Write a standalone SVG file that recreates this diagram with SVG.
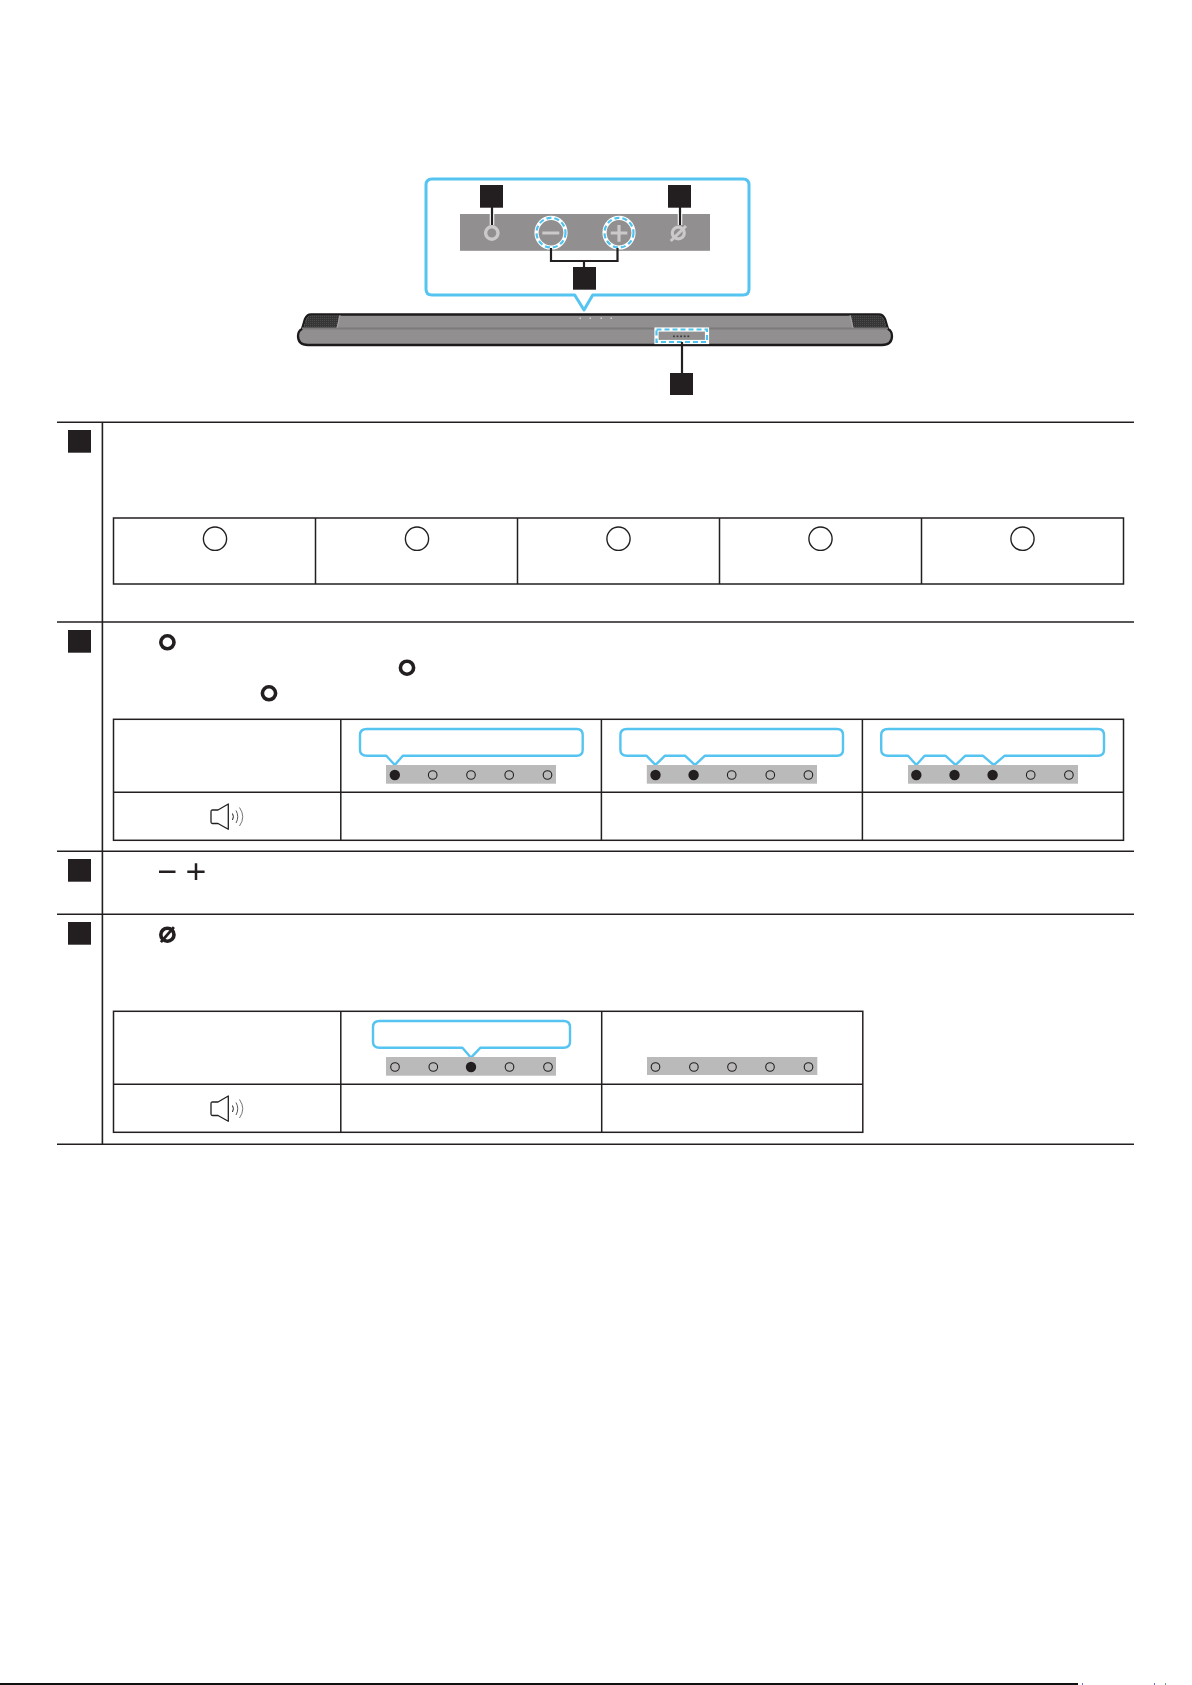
<svg xmlns="http://www.w3.org/2000/svg" width="1192" height="1685" viewBox="0 0 1192 1685">
<style>
.k{fill:#231f20}
.r{stroke:#231f20;stroke-width:1.6;fill:none}
.t{stroke:#231f20;stroke-width:1.5;fill:none}
.c{stroke:#231f20;stroke-width:2.2;fill:none}
.h{stroke:#fff;stroke-width:4.5;fill:none}
.b{stroke:#55c4f1;stroke-width:2.4;fill:#fff;stroke-linejoin:round}
.s{fill:#bbbaba}
.on{fill:#231f20}
.off{fill:none;stroke:#231f20;stroke-width:1.1}
.w{stroke:#fff;stroke-width:4.2;fill:none}
.d{stroke:#4fc3f0;stroke-width:2.2;fill:none;stroke-dasharray:5 3}
.g{stroke:#cbc9c9;fill:none}
.i{stroke:#231f20;fill:none}
</style>
<defs>
<pattern id="grille" width="2" height="2" patternUnits="userSpaceOnUse"><rect width="2" height="2" fill="#353535"/><rect width="1" height="1" fill="#4c4c4c"/></pattern>
<g id="speaker">
<path d="M7 6H1.5Q0 6 0 7.5V18Q0 19.5 1.500 19.500H7L17.300 25.300V0Z" fill="none" stroke="#231f20" stroke-width="1.300" stroke-linejoin="round"/>
<path d="M21.500 9.500Q23.300 12.700 21.500 16" fill="none" stroke="#231f20" stroke-width="1"/>
<path d="M25 6.500Q28.500 12.700 25 19" fill="none" stroke="#444" stroke-width=".9"/>
<path d="M28.500 3.500Q35 12.700 28.500 22" fill="none" stroke="#666" stroke-width=".9"/>
</g>
<g id="boldO"><ellipse cx="0" cy="0" rx="6.600" ry="6.500" class="i" stroke-width="3.600"/></g>
<g id="boldNull"><ellipse cx="0" cy="0" rx="6.600" ry="6.500" class="i" stroke-width="3.600"/><path d="M-6.500 7.500L6.500-7.500" class="i" stroke-width="2.800"/></g>
</defs>

<g id="detail-callout">
<path d="M432 179H743Q749 179 749 185V289Q749 295 743 295H592.700L584 310L574.700 295H432Q426 295 426 289V185Q426 179 432 179Z" class="b" style="stroke-width:3"/>
<rect x="460" y="214" width="250" height="36.800" fill="#918f8f"/>
<ellipse cx="491.800" cy="233" rx="6.200" ry="6.200" class="g" stroke-width="3.400"/>
<path d="M542.300 233H559.300M610.700 233H627.300M619 225V241.700" class="g" stroke-width="3.200"/>
<ellipse cx="678.300" cy="233" rx="6" ry="5.800" class="g" stroke-width="3.200"/>
<path d="M670.700 241L686 226" class="g" stroke-width="3"/>
<ellipse cx="551" cy="232.700" rx="14.500" ry="14.800" class="w"/>
<ellipse cx="551" cy="232.700" rx="14.500" ry="14.800" class="d"/>
<ellipse cx="619" cy="232.700" rx="14.500" ry="14.800" class="w"/>
<ellipse cx="619" cy="232.700" rx="14.500" ry="14.800" class="d"/>
</g>

<g id="soundbar">
<path d="M311 314.500H879Q883 314.500 885 319L888 329Q892 331 892 336Q892 345 882 345H308Q298 345 298 336Q298 331 302 329L305 319Q307 314.500 311 314.500Z" fill="#918f8f" stroke="#1c1a1b" stroke-width="2.300"/>
<path d="M309 315.500H339L337 328H303.500L306 320Z" fill="url(#grille)"/>
<path d="M851 315.500H881L884 320L886.500 328H853.500Z" fill="url(#grille)"/>
<path d="M302 328.500H888" stroke="#7c7a7a" stroke-width="2" fill="none"/>
<path d="M340 315L337 328M850 315L853 328" stroke="#a8a6a6" stroke-width="1" fill="none"/>
<g fill="#d4d3d3"><rect x="579.500" y="317.500" width="1.500" height="1.500"/><rect x="589.500" y="317.500" width="1.500" height="1.500"/><rect x="600.500" y="317.500" width="1.500" height="1.500"/><rect x="610.500" y="317.500" width="1.500" height="1.500"/></g>
<rect x="656.500" y="329.500" width="50.500" height="12.500" class="w"/>
<rect x="656.500" y="329.500" width="50.500" height="12.500" class="d"/>
<g fill="#3a3838"><rect x="673" y="335.500" width="1.800" height="1.600"/><rect x="676.600" y="335.500" width="1.800" height="1.600"/><rect x="680.200" y="335.500" width="1.800" height="1.600"/><rect x="683.800" y="335.500" width="1.800" height="1.600"/><rect x="687.400" y="335.500" width="1.800" height="1.600"/></g>
</g>

<g id="connectors">
<path d="M492 214V225" class="h"/>
<path d="M680 214V225" class="h"/>
<path d="M492 207V225" class="c"/>
<path d="M680 207V225" class="c"/>
<path d="M551 248V261H617.500V248M584 261V268" class="c"/>
<path d="M682 342V373" class="c"/>
</g>

<g id="marker-diagram-1"><rect x="480" y="185" width="23" height="22.700" class="k"/></g>
<g id="marker-diagram-2"><rect x="668" y="185" width="23" height="22.700" class="k"/></g>
<g id="marker-diagram-3"><rect x="573" y="267" width="23" height="22.700" class="k"/></g>
<g id="marker-diagram-4"><rect x="670" y="373" width="23" height="22" class="k"/></g>

<g id="rules">
<path d="M57 422.300H1134M57 622H1134M57 851.300H1134M57 914.300H1134M57 1144.300H1134" class="r"/>
<path d="M102.400 422V1144.300" class="r"/>
<path d="M0 1684H1078" stroke="#111" stroke-width="2" fill="none"/>
<path d="M1082 1684h1M1154 1684h1" stroke="#3a3ac0" stroke-width="1.500" fill="none"/>
<path d="M1165 1684h1" stroke="#2a8a70" stroke-width="1.500" fill="none"/>
</g>

<g id="row-1">
<rect x="68" y="430" width="23" height="22.700" class="k"/>
<g id="table-1">
<rect x="113.500" y="518" width="1010" height="66" class="t"/>
<path d="M315.500 518V584M517.500 518V584M719.500 518V584M921.500 518V584" class="t"/>
<g fill="none" stroke="#231f20" stroke-width="1.400">
<ellipse cx="215" cy="538.700" rx="11.600" ry="11.700"/>
<ellipse cx="417" cy="538.700" rx="11.600" ry="11.700"/>
<ellipse cx="618.500" cy="538.700" rx="11.600" ry="11.700"/>
<ellipse cx="820.500" cy="538.700" rx="11.600" ry="11.700"/>
<ellipse cx="1022.500" cy="538.700" rx="11.600" ry="11.700"/>
</g>
</g>
</g>

<g id="row-2">
<rect x="68" y="630" width="23" height="22.700" class="k"/>
<use href="#boldO" x="167.400" y="642.300"/>
<use href="#boldO" x="407" y="667.700"/>
<use href="#boldO" x="269" y="693.300"/>
<g id="table-2">
<rect x="113.500" y="719.300" width="1010" height="121" class="t"/>
<path d="M113.500 792.300H1123.500M340.800 719.300V840.300M601.400 719.300V840.300M862.400 719.300V840.300" class="t"/>
<use href="#speaker" x="211" y="804"/>
<g id="state-1">
<path d="M367 729H576.700Q582.700 729 582.700 735V749.700Q582.700 755.700 576.700 755.700H402.800L394.800 765L386.300 755.700H367Q360 755.700 360 749.700V735Q360 729 367 729Z" class="b"/>
<rect x="386" y="765" width="170" height="18.700" class="s"/>
<circle cx="394.800" cy="775" r="5.200" class="on"/><circle cx="432.700" cy="775" r="4.300" class="off"/><circle cx="471" cy="775" r="4.300" class="off"/><circle cx="509.200" cy="775" r="4.300" class="off"/><circle cx="547.500" cy="775" r="4.300" class="off"/>
</g>
<g id="state-2">
<path d="M627 729H837Q843 729 843 735V749.700Q843 755.700 837 755.700H705L695 765L685 755.700H665L655.500 765L646.400 755.700H627Q620.400 755.700 620.400 749.700V735Q620.400 729 627 729Z" class="b"/>
<rect x="646.800" y="765" width="170.200" height="18.700" class="s"/>
<circle cx="655.500" cy="775" r="5.200" class="on"/><circle cx="693.600" cy="775" r="5.200" class="on"/><circle cx="731.700" cy="775" r="4.300" class="off"/><circle cx="770.300" cy="775" r="4.300" class="off"/><circle cx="808.400" cy="775" r="4.300" class="off"/>
</g>
<g id="state-3">
<path d="M888 729H1098Q1104 729 1104 735V749.700Q1104 755.700 1098 755.700H1004.700L993.700 765L982.800 755.700H965.400L955.600 765L945.400 755.700H924.600L916.300 765L908 755.700H888Q881.200 755.700 881.200 749.700V735Q881.200 729 888 729Z" class="b"/>
<rect x="908" y="765" width="170" height="18.700" class="s"/>
<circle cx="916.300" cy="775" r="5.200" class="on"/><circle cx="954.500" cy="775" r="5.200" class="on"/><circle cx="992.600" cy="775" r="5.200" class="on"/><circle cx="1030.700" cy="775" r="4.300" class="off"/><circle cx="1068.900" cy="775" r="4.300" class="off"/>
</g>
</g>
</g>

<g id="row-3">
<rect x="68" y="859" width="23" height="22.700" class="k"/>
<path d="M159 871.700H175.500M187.300 871.700H204.600M196 863.300V880" class="i" stroke-width="2.500"/>
</g>

<g id="row-4">
<rect x="68" y="922" width="23" height="22.700" class="k"/>
<use href="#boldNull" x="167.400" y="934.700"/>
<g id="table-4">
<rect x="113.500" y="1011.300" width="749.300" height="121" class="t"/>
<path d="M113.500 1084.300H862.800M340.800 1011.300V1132.300M601.700 1011.300V1132.300" class="t"/>
<use href="#speaker" x="211" y="1096"/>
<g id="state-on">
<path d="M379.500 1021H563.500Q570 1021 570 1027V1041.700Q570 1047.700 563.500 1047.700H480.500L471 1057.700L462.400 1047.700H379.500Q373 1047.700 373 1041.700V1027Q373 1021 379.500 1021Z" class="b"/>
<rect x="386" y="1057" width="170" height="18.700" class="s"/>
<circle cx="395" cy="1067" r="4.300" class="off"/><circle cx="433.300" cy="1067" r="4.300" class="off"/><circle cx="471" cy="1067" r="5.200" class="on"/><circle cx="509.500" cy="1067" r="4.300" class="off"/><circle cx="548" cy="1067" r="4.300" class="off"/>
</g>
<g id="state-off">
<rect x="647" y="1057" width="170.300" height="18" class="s"/>
<circle cx="655.500" cy="1067" r="4.300" class="off"/><circle cx="693.900" cy="1067" r="4.300" class="off"/><circle cx="732" cy="1067" r="4.300" class="off"/><circle cx="770" cy="1067" r="4.300" class="off"/><circle cx="808.500" cy="1067" r="4.300" class="off"/>
</g>
</g>
</g>
</svg>
